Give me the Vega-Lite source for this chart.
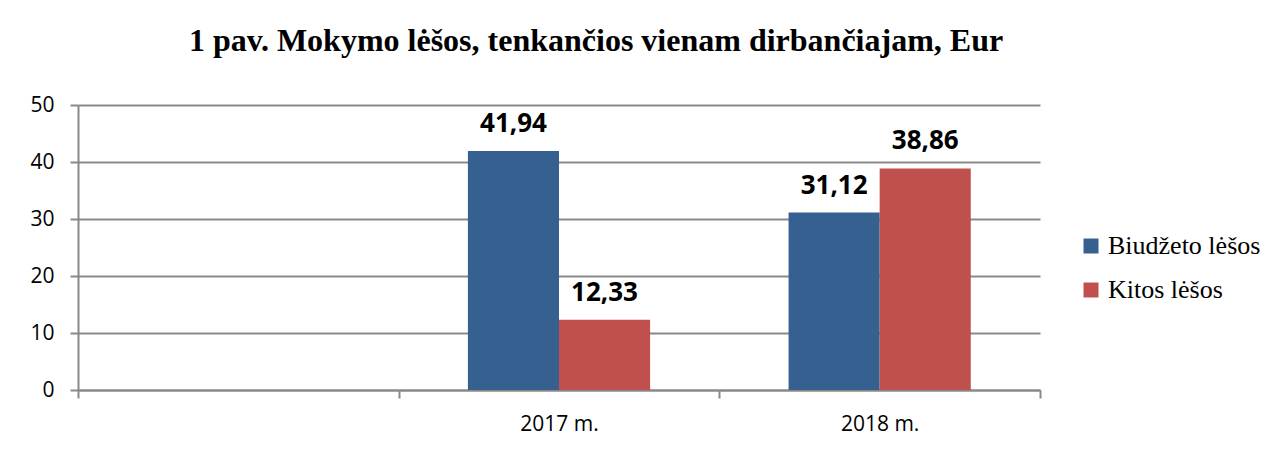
{
  "$schema": "https://vega.github.io/schema/vega-lite/v6.json",
  "width": 962,
  "height": 285,
  "autosize": "none",
  "padding": {"left": 78, "top": 105, "right": 232, "bottom": 60},
  "background": "white",
  "config": {
    "locale": {"number": {"decimal": ",", "thousands": " ", "grouping": [3], "currency": ["", " €"]}},
    "view": {"stroke": null}
  },
  "title": {
    "text": "1 pav. Mokymo lėšos, tenkančios vienam dirbančiajam, Eur",
    "font": "Liberation Serif",
    "fontSize": 32,
    "fontWeight": "bold",
    "color": "black",
    "anchor": "middle",
    "frame": "group",
    "dx": 37,
    "offset": 36
  },
  "data": {
    "values": [
      {"year": "2017 m.", "series": "Biudžeto lėšos", "value": 41.94},
      {"year": "2017 m.", "series": "Kitos lėšos", "value": 12.33},
      {"year": "2018 m.", "series": "Biudžeto lėšos", "value": 31.12},
      {"year": "2018 m.", "series": "Kitos lėšos", "value": 38.86}
    ]
  },
  "encoding": {
    "x": {
      "field": "year",
      "type": "nominal",
      "title": null,
      "scale": {"domain": [" ", "2017 m.", "2018 m."], "paddingInner": 0, "paddingOuter": 0},
      "axis": {
        "labelAngle": 0,
        "labelFont": "Open Sans",
        "labelFontSize": 21,
        "labelColor": "black",
        "labelPadding": 15,
        "tickBand": "extent",
        "tickSize": 8,
        "tickColor": "#898989",
        "tickWidth": 2,
        "domainColor": "#898989",
        "domainWidth": 2,
        "grid": false
      }
    },
    "xOffset": {
      "field": "series",
      "type": "nominal",
      "scale": {"domain": ["Biudžeto lėšos", "Kitos lėšos"], "paddingInner": 0, "paddingOuter": 0.76}
    },
    "y": {
      "field": "value",
      "type": "quantitative",
      "title": null,
      "scale": {"domain": [0, 50], "nice": false},
      "axis": {
        "values": [0, 10, 20, 30, 40, 50],
        "labelFont": "Open Sans",
        "labelFontSize": 21,
        "labelColor": "black",
        "labelPadding": 16,
        "tickSize": 8,
        "tickColor": "#898989",
        "tickWidth": 2,
        "domainColor": "#898989",
        "domainWidth": 2,
        "grid": true,
        "gridColor": "#898989",
        "gridWidth": 2
      }
    }
  },
  "layer": [
    {
      "mark": {"type": "bar"},
      "encoding": {
        "color": {
          "field": "series",
          "type": "nominal",
          "title": null,
          "scale": {"domain": ["Biudžeto lėšos", "Kitos lėšos"], "range": ["#36608F", "#C0504D"]},
          "legend": {
            "orient": "none",
            "legendX": 1000,
            "legendY": 128,
            "symbolType": "square",
            "symbolSize": 225,
            "symbolStrokeWidth": 0,
            "labelFont": "Liberation Serif",
            "labelFontSize": 26,
            "labelColor": "black",
            "labelOffset": 4,
            "rowPadding": 18,
            "labelLimit": 300
          }
        }
      }
    },
    {
      "mark": {"type": "text", "baseline": "alphabetic", "dy": -19, "font": "Open Sans", "fontSize": 26, "fontWeight": "bold", "color": "black"},
      "encoding": {
        "text": {"field": "value", "type": "quantitative", "format": ".2f"}
      }
    }
  ]
}
